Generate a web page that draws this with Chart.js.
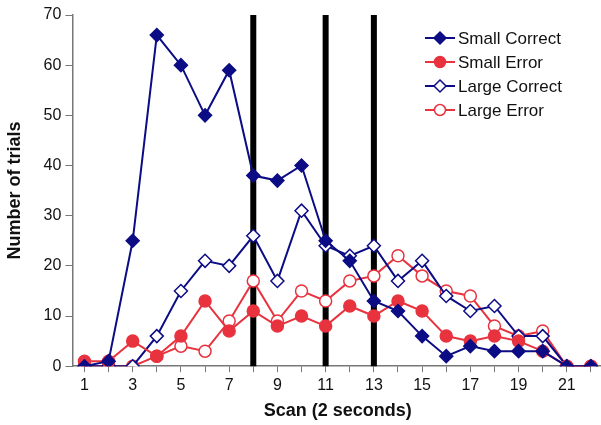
<!DOCTYPE html>
<html>
<head>
<meta charset="utf-8">
<script src="https://cdn.jsdelivr.net/npm/chart.js@4/dist/chart.umd.min.js"></script>
<style>
  html, body { margin: 0; padding: 0; background: #fff; overflow: hidden; }
  #wrap { width: 611px; height: 425px; }
</style>
</head>
<body>
<div id="wrap"><canvas id="chart"></canvas></div>
<script>
// Scan number (2 seconds each)
const scans = ["1","2","3","4","5","6","7","8","9","10","11","12","13","14","15","16","17","18","19","20","21","22"];

const smallCorrect = [0, 1, 25, 66, 60, 50, 59, 38, 37, 40, 25, 21, 13, 11, 6, 2, 4, 3, 3, 3, 0, 0];
const smallError   = [1, 1, 5, 2, 6, 13, 7, 11, 8, 10, 8, 12, 10, 13, 11, 6, 5, 6, 5, 3, 0, 0];
const largeCorrect = [0, 0, 0, 6, 15, 21, 20, 26, 17, 31, 24, 22, 24, 17, 21, 14, 11, 12, 6, 6, 0, 0];
const largeError   = [0, 0, 0, 2, 4, 3, 9, 17, 9, 15, 13, 17, 18, 22, 18, 15, 14, 8, 6, 7, 0, 0];

// scans marked with a heavy vertical bar
const markers = ["8", "11", "13"];

const NAVY = "#0c0c85";
const RED = "#e8333f";
const FONT = "'Liberation Sans', Arial, sans-serif";

// heavy black bars at the marked scans
const barLines = {
  id: "barLines",
  beforeDatasetsDraw(chart) {
    const { ctx, chartArea, scales } = chart;
    ctx.save();
    ctx.strokeStyle = "#000";
    ctx.lineWidth = 6;
    markers.forEach((m) => {
      const x = scales.x.getPixelForValue(scans.indexOf(m));
      ctx.beginPath();
      ctx.moveTo(x, chartArea.top);
      ctx.lineTo(x, chartArea.bottom);
      ctx.stroke();
    });
    ctx.restore();
  }
};

// Excel-like legend: short line with marker in the middle
const lineLegend = {
  id: "lineLegend",
  afterDraw(chart) {
    const ctx = chart.ctx;
    ctx.save();
    ctx.font = "17px " + FONT;
    ctx.textBaseline = "middle";
    chart.data.datasets.forEach((ds, i) => {
      const y = 38 + i * 24;
      ctx.strokeStyle = ds.borderColor;
      ctx.lineWidth = 2;
      ctx.beginPath();
      ctx.moveTo(425, y);
      ctx.lineTo(455, y);
      ctx.stroke();
      ctx.fillStyle = ds.pointBackgroundColor;
      ctx.lineWidth = 1.5;
      ctx.beginPath();
      if (ds.pointStyle === "rectRot") {
        ctx.moveTo(440, y - 6);
        ctx.lineTo(446, y);
        ctx.lineTo(440, y + 6);
        ctx.lineTo(434, y);
        ctx.closePath();
      } else {
        ctx.arc(440, y, 5.5, 0, Math.PI * 2);
      }
      ctx.fill();
      ctx.stroke();
      ctx.fillStyle = "#111";
      ctx.fillText(ds.label, 458, y + 1);
    });
    ctx.restore();
  }
};

new Chart(document.getElementById("chart"), {
  type: "line",
  data: {
    labels: scans,
    datasets: [
      { label: "Small Correct", data: smallCorrect, borderColor: NAVY, pointBackgroundColor: NAVY,
        pointStyle: "rectRot", pointRadius: 6.5, borderWidth: 2, pointBorderWidth: 1.5 },
      { label: "Small Error", data: smallError, borderColor: RED, pointBackgroundColor: RED,
        pointStyle: "circle", pointRadius: 6, borderWidth: 2, pointBorderWidth: 1.5 },
      { label: "Large Correct", data: largeCorrect, borderColor: NAVY, pointBackgroundColor: "#fff",
        pointStyle: "rectRot", pointRadius: 6.5, borderWidth: 2, pointBorderWidth: 1.5 },
      { label: "Large Error", data: largeError, borderColor: RED, pointBackgroundColor: "#fff",
        pointStyle: "circle", pointRadius: 6, borderWidth: 2, pointBorderWidth: 1.5 }
    ]
  },
  options: {
    responsive: true,
    maintainAspectRatio: false,
    animation: false,
    layout: { padding: { top: 15, right: 0, left: 4, bottom: 2 } },
    plugins: {
      legend: { display: false },
      tooltip: { enabled: false }
    },
    scales: {
      x: {
        offset: true,
        grid: { drawOnChartArea: false, tickLength: 6, color: "#777" },
        border: { color: "#777", width: 1.5 },
        ticks: {
          autoSkip: false,
          maxRotation: 0,
          color: "#111",
          padding: 4,
          font: { size: 16, family: FONT },
          callback: (v, i) => (i % 2 === 0 && i < 21 ? scans[i] : "")
        },
        title: {
          display: true,
          text: "Scan (2 seconds)",
          color: "#111",
          font: { size: 18, weight: "bold", family: FONT },
          padding: { top: 1, bottom: 1 }
        }
      },
      y: {
        min: 0,
        max: 70,
        grid: { drawOnChartArea: false, tickLength: 7, color: "#777" },
        border: { color: "#777", width: 1.5 },
        ticks: {
          stepSize: 10,
          color: "#111",
          padding: 4,
          font: { size: 16, family: FONT }
        },
        title: {
          display: true,
          text: "Number of trials",
          color: "#111",
          font: { size: 18, weight: "bold", family: FONT },
          padding: { top: 0, bottom: 14 }
        }
      }
    }
  },
  plugins: [barLines, lineLegend]
});
</script>
</body>
</html>
